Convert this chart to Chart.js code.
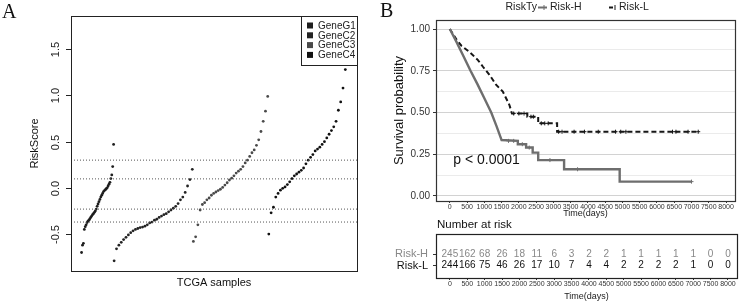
<!DOCTYPE html>
<html>
<head>
<meta charset="utf-8">
<script src="https://cdn.jsdelivr.net/npm/chart.js@4.4.1/dist/chart.umd.min.js"></script>
<style>
  html, body { margin: 0; padding: 0; background: #fff; }
  #wrap { position: relative; width: 740px; height: 302px; overflow: hidden; }
  canvas { position: absolute; }
  #cA { left: 0; top: 0; }
  #cB { left: 375px; top: 0; }
  #cT { left: 375px; top: 216px; }
</style>
</head>
<body>
<div id="wrap">
  <canvas id="cA" width="375" height="302" style="width:375px;height:302px"></canvas>
  <canvas id="cB" width="365" height="222" style="width:365px;height:222px"></canvas>
  <canvas id="cT" width="365" height="86" style="width:365px;height:86px"></canvas>
</div>
<script>
// ---- панель A: дані ----
const geneNames = ['GeneG1', 'GeneC2', 'GeneC3', 'GeneC4'];
// індекси зразків (перший, останній) для кожної групи
const sampleRanges = [[1, 60], [61, 205], [207, 344], [346, 487]];
const geneG1 = [-0.70, -0.62, -0.60, -0.45, -0.42, -0.40, -0.375, -0.36, -0.35, -0.335, -0.32, -0.305,
  -0.29, -0.28, -0.265, -0.25, -0.23, -0.20, -0.175, -0.15, -0.125, -0.10, -0.08, -0.06, -0.04, -0.03,
  -0.02, -0.01, 0.00, 0.02, 0.04, 0.06, 0.10, 0.14, 0.23, 0.47];
const geneC2 = [-0.79, -0.66, -0.62, -0.59, -0.56, -0.535, -0.51, -0.485, -0.465, -0.45, -0.44, -0.43,
  -0.425, -0.415, -0.40, -0.38, -0.37, -0.35, -0.34, -0.32, -0.305, -0.29, -0.28, -0.26, -0.24, -0.22,
  -0.20, -0.17, -0.13, -0.10, -0.05, 0.02, 0.09, 0.20];
const geneC3 = [-0.58, -0.53, -0.40, -0.24, -0.18, -0.16, -0.13, -0.11, -0.08, -0.06, -0.045, -0.03,
  -0.015, 0.005, 0.03, 0.055, 0.085, 0.105, 0.13, 0.16, 0.18, 0.20, 0.23, 0.27, 0.30, 0.34, 0.38, 0.41,
  0.46, 0.52, 0.61, 0.72, 0.83, 0.99];
const geneC4 = [-0.50, -0.27, -0.21, -0.10, -0.06, -0.025, -0.005, 0.01, 0.035, 0.065, 0.10, 0.13, 0.15,
  0.17, 0.19, 0.215, 0.26, 0.30, 0.33, 0.36, 0.40, 0.42, 0.44, 0.47, 0.50, 0.54, 0.58, 0.62, 0.66, 0.72,
  0.84, 0.93, 1.08, 1.28];
const cutoffs = [0.30, 0.097, -0.23, -0.37];
const scoreTicks = [-0.5, 0, 0.5, 1.0, 1.5];

// ---- панель B: дані ----
const kmTimesH = [0, 200, 400, 600, 800, 1000, 1200, 1350, 1500, 1970, 1970, 2210, 2210, 2400, 2400,
  2560, 2560, 3310, 3310, 4920, 4920, 7000];
const kmSurvH = [1.0, 0.92, 0.835, 0.75, 0.67, 0.585, 0.50, 0.42, 0.335, 0.33, 0.31, 0.31, 0.29, 0.29,
  0.26, 0.26, 0.215, 0.215, 0.16, 0.16, 0.086, 0.086];
const kmTimesL = [0, 200, 336, 575, 815, 960, 1150, 1345, 1535, 1727, 1790, 1800, 2245, 2245, 2560, 2560,
  3108, 3108, 7195];
const kmSurvL = [1.0, 0.935, 0.90, 0.862, 0.814, 0.774, 0.725, 0.665, 0.625, 0.545, 0.50, 0.494, 0.494,
  0.475, 0.475, 0.435, 0.435, 0.385, 0.385];
const censorTimesH = [1700, 1850, 2100, 2300, 2900, 3700, 7000];
const censorSurvH = [0.33, 0.33, 0.31, 0.29, 0.215, 0.16, 0.086];
const censorTimesL = [1850, 2000, 2150, 2350, 2420, 2650, 2750, 2850, 3150, 3250, 3600, 3900, 4300, 4800,
  4950, 5100, 6450, 6550, 6900, 7195];
const censorSurvL = [0.494, 0.494, 0.494, 0.475, 0.475, 0.435, 0.435, 0.435, 0.385, 0.385, 0.385, 0.385,
  0.385, 0.385, 0.385, 0.385, 0.385, 0.385, 0.385, 0.385];
const timeTicks = [0, 500, 1000, 1500, 2000, 2500, 3000, 3500, 4000, 4500, 5000, 5500, 6000, 6500, 7000, 7500, 8000];
const survTicks = [0, 0.125, 0.25, 0.375, 0.5, 0.625, 0.75, 0.875, 1.0];
const riskNames = ['Risk-H', 'Risk-L'];
const atRiskH = [245, 162, 68, 26, 18, 11, 6, 3, 2, 2, 1, 1, 1, 1, 1, 0, 0];
const atRiskL = [244, 166, 75, 46, 26, 17, 10, 7, 4, 4, 2, 2, 2, 2, 1, 0, 0];

// ---- стилі ----
const FONT = '"Liberation Sans", Arial, sans-serif';
const SERIF = '"Liberation Serif", "Times New Roman", serif';
const geneColors = ['#1e1e1e', '#232323', '#4a4a4a', '#111111'];
const H_COLOR = '#6e6e6e';
const L_COLOR = '#161616';

Chart.defaults.font.family = FONT;
Chart.defaults.color = '#222';

function pairs(xs, ys) {
  return xs.map((x, i) => ({ x: x, y: ys[i] }));
}

// ================= ПАНЕЛЬ A =================
const geneSeries = [geneG1, geneC2, geneC3, geneC4];
const X_MIN_A = -18.5, X_MAX_A = 508.5;

const datasetsA = [];
cutoffs.forEach(v => {
  datasetsA.push({
    type: 'line',
    data: [{ x: X_MIN_A, y: v }, { x: X_MAX_A, y: v }],
    borderColor: '#555',
    borderWidth: 1,
    borderDash: [1, 2],
    pointRadius: 0
  });
});
geneSeries.forEach((vals, g) => {
  const [s, e] = sampleRanges[g];
  datasetsA.push({
    label: geneNames[g],
    data: vals.map((v, i) => ({ x: s + i * (e - s) / (vals.length - 1), y: v })),
    backgroundColor: geneColors[g],
    borderWidth: 0,
    pointRadius: 1.4
  });
});

const panelAPlugin = {
  id: 'panelA',
  afterDraw(chart) {
    const { ctx, chartArea: a, scales } = chart;
    ctx.save();
    // рамка
    ctx.strokeStyle = '#222';
    ctx.lineWidth = 1;
    ctx.strokeRect(a.left + 0.5, a.top + 0.5, a.right - a.left, a.bottom - a.top);
    // поділки та підписи осі Y (повернуті)
    ctx.fillStyle = '#222';
    ctx.font = '11px ' + FONT;
    ctx.textAlign = 'center';
    ctx.textBaseline = 'middle';
    scoreTicks.forEach(v => {
      const y = Math.round(scales.y.getPixelForValue(v)) + 0.5;
      ctx.beginPath();
      ctx.moveTo(a.left - 5, y);
      ctx.lineTo(a.left, y);
      ctx.stroke();
      ctx.save();
      ctx.translate(56, y);
      ctx.rotate(-Math.PI / 2);
      ctx.fillText(v.toFixed(1), 0, 0);
      ctx.restore();
    });
    // легенда
    const lx = a.right - 56, ly = a.top;
    ctx.fillStyle = '#fff';
    ctx.fillRect(lx, ly, 56, 49);
    ctx.strokeRect(lx + 0.5, ly + 0.5, 56, 49);
    ctx.font = '10px ' + FONT;
    ctx.textAlign = 'left';
    geneNames.forEach((n, i) => {
      const cy = ly + 9.5 + i * 9.8;
      ctx.fillStyle = geneColors[i];
      ctx.fillRect(lx + 6, cy - 3, 6, 6);
      ctx.fillStyle = '#222';
      ctx.fillText(n, lx + 17, cy + 0.5);
    });
    // літера панелі
    ctx.font = '20px ' + SERIF;
    ctx.fillStyle = '#111';
    ctx.textBaseline = 'alphabetic';
    ctx.fillText('A', 2, 18);
    ctx.restore();
  }
};

new Chart(document.getElementById('cA'), {
  type: 'scatter',
  data: { datasets: datasetsA },
  options: {
    responsive: false,
    animation: false,
    layout: { padding: { left: 0, right: 18, top: 16, bottom: 0 } },
    plugins: { legend: { display: false }, tooltip: { enabled: false } },
    scales: {
      x: {
        type: 'linear', min: X_MIN_A, max: X_MAX_A,
        afterFit: s => { s.height = 31; },
        ticks: { display: false }, grid: { display: false }, border: { display: false },
        title: { display: true, text: 'TCGA samples', font: { size: 11 }, color: '#111', padding: { top: 0, bottom: 12 } }
      },
      y: {
        min: -0.9, max: 1.86,
        afterFit: s => { s.width = 71; },
        ticks: { display: false }, grid: { display: false }, border: { display: false },
        title: { display: true, text: 'RiskScore', font: { size: 11 }, color: '#111', padding: { top: 28, bottom: 0 } }
      }
    }
  },
  plugins: [panelAPlugin]
});

// ================= ПАНЕЛЬ B: криві виживання =================
const isMajor = v => Math.abs(v * 4 - Math.round(v * 4)) < 1e-6;

const timeAxis = (titlePad) => ({
  type: 'linear', min: -400, max: 8260,
  afterBuildTicks: s => { s.ticks = timeTicks.map(v => ({ value: v })); },
  ticks: { autoSkip: false, maxRotation: 0, minRotation: 0, padding: 0, font: { size: 7 }, color: '#333',
    callback: v => String(v) },
  grid: { drawOnChartArea: false, tickLength: 2, color: '#333' },
  border: { display: false },
  title: { display: true, text: 'Time(days)', font: { size: 9 }, color: '#222', padding: { top: 0, bottom: titlePad } }
});

const kmPlugin = {
  id: 'kmExtras',
  afterDraw(chart) {
    const { ctx, chartArea: a, scales } = chart;
    ctx.save();
    ctx.strokeStyle = '#333';
    ctx.lineWidth = 1.2;
    ctx.strokeRect(a.left + 0.5, a.top + 0.5, a.right - a.left, a.bottom - a.top);
    // p-значення
    ctx.fillStyle = '#111';
    ctx.font = '14px ' + FONT;
    ctx.textAlign = 'left';
    ctx.textBaseline = 'middle';
    ctx.fillText('p < 0.0001', scales.x.getPixelForValue(100), scales.y.getPixelForValue(0.215));
    // легенда зверху
    ctx.font = '10.5px ' + FONT;
    ctx.fillStyle = '#222';
    ctx.textAlign = 'right';
    ctx.fillText('RiskTy', 162, 7);
    ctx.textAlign = 'left';
    ctx.lineWidth = 2;
    ctx.strokeStyle = H_COLOR;
    ctx.beginPath(); ctx.moveTo(163, 7.5); ctx.lineTo(172, 7.5); ctx.stroke();
    ctx.lineWidth = 1;
    ctx.beginPath(); ctx.moveTo(169, 5); ctx.lineTo(169, 10); ctx.stroke();
    ctx.fillText('Risk-H', 175, 7);
    ctx.strokeStyle = L_COLOR;
    ctx.lineWidth = 2;
    ctx.beginPath(); ctx.moveTo(234, 7.5); ctx.lineTo(238, 7.5); ctx.stroke();
    ctx.lineWidth = 1;
    ctx.beginPath(); ctx.moveTo(240, 5); ctx.lineTo(240, 10); ctx.stroke();
    ctx.fillText('Risk-L', 244, 7);
    // літера панелі
    ctx.font = '20px ' + SERIF;
    ctx.fillStyle = '#111';
    ctx.textBaseline = 'alphabetic';
    ctx.fillText('B', 5, 17);
    ctx.restore();
  }
};

new Chart(document.getElementById('cB'), {
  type: 'scatter',
  data: {
    datasets: [
      { label: riskNames[0], data: pairs(kmTimesH, kmSurvH), showLine: true, borderColor: H_COLOR,
        borderWidth: 2.4, pointRadius: 0 },
      { label: riskNames[1], data: pairs(kmTimesL, kmSurvL), showLine: true, borderColor: L_COLOR,
        borderWidth: 2, borderDash: [5, 3], pointRadius: 0 },
      { data: pairs(censorTimesH, censorSurvH), pointStyle: 'cross', pointRadius: 2,
        borderColor: H_COLOR, borderWidth: 1 },
      { data: pairs(censorTimesL, censorSurvL), pointStyle: 'cross', pointRadius: 2,
        borderColor: L_COLOR, borderWidth: 1 }
    ]
  },
  options: {
    responsive: false,
    animation: false,
    layout: { padding: { left: 0, right: 3, top: 20, bottom: 0 } },
    plugins: { legend: { display: false }, tooltip: { enabled: false } },
    scales: {
      x: Object.assign(timeAxis(3), { afterFit: s => { s.height = 21; } }),
      y: {
        min: -0.03, max: 1.054,
        afterFit: s => { s.width = 61; },
        afterBuildTicks: s => { s.ticks = survTicks.map(v => ({ value: v })); },
        ticks: {
          padding: 3, font: { size: 10 }, color: '#333',
          callback: v => isMajor(v) ? v.toFixed(2) : ''
        },
        grid: {
          tickLength: 3,
          color: c => isMajor(c.tick.value) ? '#d2d2d2' : '#ebebeb',
          tickColor: c => isMajor(c.tick.value) ? '#333' : 'rgba(0,0,0,0)'
        },
        border: { display: false },
        title: { display: true, text: 'Survival probability', font: { size: 13 }, color: '#111', padding: { top: 17, bottom: 0 } }
      }
    }
  },
  plugins: [kmPlugin]
});

// ================= ПАНЕЛЬ B: таблиця "Number at risk" =================
const tablePlugin = {
  id: 'riskTable',
  afterDraw(chart) {
    const { ctx, chartArea: a, scales } = chart;
    ctx.save();
    ctx.strokeStyle = '#222';
    ctx.lineWidth = 1.2;
    ctx.strokeRect(a.left + 0.5, a.top + 0.5, a.right - a.left, a.bottom - a.top);
    ctx.font = '11.5px ' + FONT;
    ctx.fillStyle = '#111';
    ctx.textAlign = 'left';
    ctx.textBaseline = 'middle';
    ctx.fillText('Number at risk', a.left + 1, 9);
    ctx.font = '10px ' + FONT;
    ctx.textAlign = 'center';
    [[atRiskH, 2, '#888'], [atRiskL, 1, '#111']].forEach(([row, yv, col]) => {
      ctx.fillStyle = col;
      row.forEach((n, i) => {
        ctx.fillText(String(n), scales.x.getPixelForValue(timeTicks[i]), scales.y.getPixelForValue(yv));
      });
    });
    ctx.restore();
  }
};

new Chart(document.getElementById('cT'), {
  type: 'scatter',
  data: { datasets: [] },
  options: {
    responsive: false,
    animation: false,
    layout: { padding: { left: 0, right: 3, top: 18, bottom: 0 } },
    plugins: { legend: { display: false }, tooltip: { enabled: false } },
    scales: {
      x: Object.assign(timeAxis(0), { afterFit: s => { s.height = 24; } }),
      y: {
        min: -0.08, max: 3.78,
        afterFit: s => { s.width = 61; },
        afterBuildTicks: s => { s.ticks = [{ value: 2 }, { value: 1 }]; },
        ticks: {
          padding: 5, font: { size: 11 },
          callback: v => v === 2 ? riskNames[0] : riskNames[1],
          color: c => c.tick.value === 2 ? '#888' : '#111'
        },
        grid: { drawOnChartArea: false, tickLength: 3, color: '#333' },
        border: { display: false }
      }
    }
  },
  plugins: [tablePlugin]
});
</script>
</body>
</html>
